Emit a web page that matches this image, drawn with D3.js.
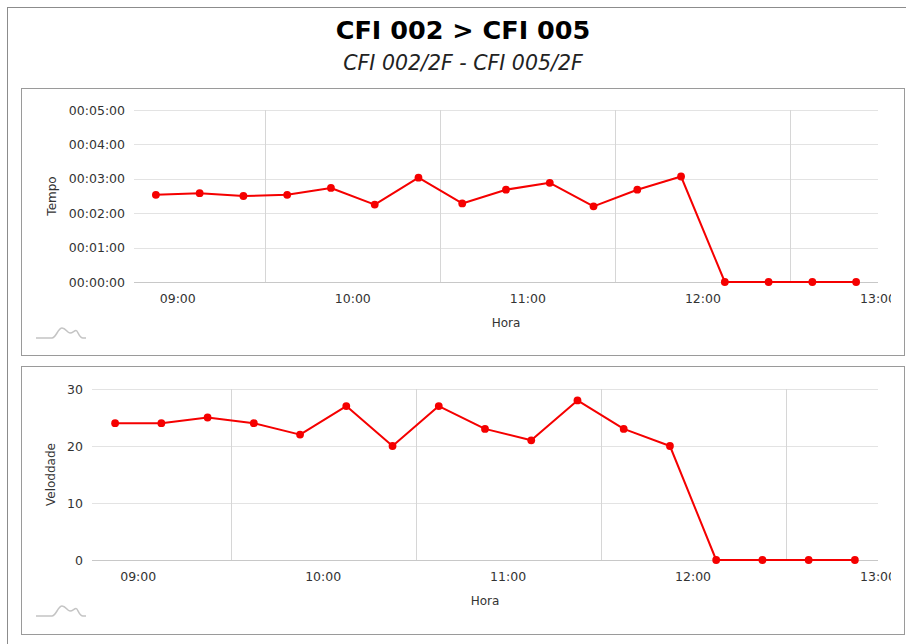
<!DOCTYPE html>
<html>
<head>
<meta charset="utf-8">
<script src="https://cdn.jsdelivr.net/npm/d3@7"></script>
<style>
html,body{margin:0;padding:0;background:#fff;}
svg{display:block;font-family:"DejaVu Sans",Verdana,sans-serif;}
</style>
</head>
<body>
<svg id="chart" width="906" height="644"></svg>
<script>
const titleText = "CFI 002 > CFI 005";
const subtitleText = "CFI 002/2F - CFI 005/2F";
const times = ["08:52:30","09:07:30","09:22:30","09:37:30","09:52:30","10:07:30","10:22:30","10:37:30","10:52:30","11:07:30","11:22:30","11:37:30","11:52:30","12:07:30","12:22:30","12:37:30","12:52:30"];
const tempo = ["00:02:32","00:02:35","00:02:30","00:02:32","00:02:44","00:02:15","00:03:02","00:02:17","00:02:41","00:02:53","00:02:12","00:02:41","00:03:04","00:00:00","00:00:00","00:00:00","00:00:00"];
const velocidade = [24,24,25,24,22,27,20,27,23,21,28,23,20,0,0,0,0];
const xTickLabels = ["09:00","10:00","11:00","12:00","13:00"];
const xGridTimes = ["09:30","10:30","11:30","12:30"];
const xDomain = ["08:45","13:00"];
const tempoTickLabels = ["00:00:00","00:01:00","00:02:00","00:03:00","00:04:00","00:05:00"];
const velTicks = [0,10,20,30];
const xTitle = "Hora";
const tempoTitle = "Tempo";
const velTitle = "Veloddade";

const parseT = s => { const p = s.split(":").map(Number); return new Date(2000,0,1,p[0],p[1],p[2]||0); };
const toSec = s => { const p = s.split(":").map(Number); return p[0]*3600+p[1]*60+p[2]; };

const svg = d3.select("#chart");
// outer frame
svg.append("rect").attr("x",7.5).attr("y",7.5).attr("width",906).attr("height",640)
  .attr("fill","#fff").attr("stroke","#8c8c8c").attr("stroke-width",1);

svg.append("text").attr("x",463).attr("y",39).attr("text-anchor","middle")
  .attr("font-size",25.5).attr("font-weight","bold").attr("fill","#000").text(titleText);
svg.append("text").attr("x",463).attr("y",70).attr("text-anchor","middle")
  .attr("font-size",20.5).attr("font-style","italic").attr("fill","#222").text(subtitleText);

function panel(cfg){
  const g = svg.append("g");
  const clipId = "clip"+cfg.id;
  svg.append("defs").append("clipPath").attr("id",clipId)
    .append("rect").attr("x",cfg.box[0]).attr("y",cfg.box[1]).attr("width",891-cfg.box[0]).attr("height",cfg.box[3]-cfg.box[1]);
  g.append("rect").attr("x",cfg.box[0]+0.5).attr("y",cfg.box[1]+0.5)
    .attr("width",cfg.box[2]-cfg.box[0]).attr("height",cfg.box[3]-cfg.box[1])
    .attr("fill","#fff").attr("stroke","#9a9a9a");
  const inner = g.append("g").attr("clip-path",`url(#${clipId})`);
  const x = d3.scaleTime().domain(xDomain.map(parseT)).range([cfg.plot[0],cfg.plot[2]]);
  const y = d3.scaleLinear().domain(cfg.yDomain).range([cfg.plot[3],cfg.plot[1]]);

  // horizontal grid
  inner.append("g").selectAll("line").data(cfg.yTicks).join("line")
    .attr("x1",cfg.plot[0]).attr("x2",cfg.plot[2])
    .attr("y1",d=>Math.round(y(d))+0.5).attr("y2",d=>Math.round(y(d))+0.5)
    .attr("stroke",(d,i)=>i===0?"#c8c8c8":"#e3e3e3").attr("stroke-width",1);
  // vertical grid
  inner.append("g").selectAll("line").data(xGridTimes).join("line")
    .attr("x1",d=>Math.round(x(parseT(d)))+0.5).attr("x2",d=>Math.round(x(parseT(d)))+0.5)
    .attr("y1",cfg.plot[1]).attr("y2",cfg.plot[3])
    .attr("stroke","#d6d6d6").attr("stroke-width",1);

  // y tick labels
  inner.append("g").selectAll("text").data(cfg.yTicks).join("text")
    .attr("x",cfg.plot[0]-9).attr("y",d=>y(d)+4.5).attr("text-anchor","end")
    .attr("font-size",12.5).attr("fill","#333").text((d,i)=>cfg.yLabels[i]);
  // x tick labels
  inner.append("g").selectAll("text").data(xTickLabels).join("text")
    .attr("x",d=>x(parseT(d))).attr("y",cfg.plot[3]+21).attr("text-anchor","middle")
    .attr("font-size",12.5).attr("fill","#333").text(d=>d);

  // axis titles
  inner.append("text").attr("x",(cfg.plot[0]+cfg.plot[2])/2).attr("y",cfg.plot[3]+45)
    .attr("text-anchor","middle").attr("font-size",12).attr("fill","#333").text(xTitle);
  inner.append("text").attr("transform",`translate(${cfg.yTitleX},${(cfg.plot[1]+cfg.plot[3])/2}) rotate(-90)`)
    .attr("text-anchor","middle").attr("font-size",12).attr("fill","#333").text(cfg.yTitle);

  // icon
  const ix = cfg.box[0]+15, iy = cfg.plot[3]+56;
  inner.append("path").attr("d",
    `M${ix},${iy} L${ix+16},${iy} C${ix+20},${iy} ${ix+22},${iy-10} ${ix+26},${iy-10} C${ix+30},${iy-10} ${ix+31},${iy-5} ${ix+34},${iy-5} C${ix+37},${iy-5} ${ix+38},${iy-7.5} ${ix+40},${iy-7.5} C${ix+42},${iy-7.5} ${ix+43},${iy} ${ix+47},${iy} L${ix+50},${iy}`)
    .attr("fill","none").attr("stroke","#c4c4c4").attr("stroke-width",1.5);

  // series
  const data = times.map((t,i)=>({t:parseT(t), v:cfg.values[i]}));
  const line = d3.line().x(d=>x(d.t)).y(d=>y(d.v));
  inner.append("path").datum(data).attr("d",line).attr("fill","none")
    .attr("stroke","#f50000").attr("stroke-width",2).attr("stroke-linejoin","round");
  inner.append("g").selectAll("circle").data(data).join("circle")
    .attr("cx",d=>x(d.t)).attr("cy",d=>y(d.v)).attr("r",3.9).attr("fill","#f50000");
}

panel({id:1, box:[21,88,904,355], plot:[134,110,878,282], yDomain:[0,300],
  yTicks: tempoTickLabels.map(toSec), yLabels: tempoTickLabels,
  values: tempo.map(toSec), yTitle: tempoTitle, yTitleX: 56});
panel({id:2, box:[21,366,904,634], plot:[92,389,878,560], yDomain:[0,30],
  yTicks: velTicks, yLabels: velTicks.map(String),
  values: velocidade, yTitle: velTitle, yTitleX: 55});
</script>
</body>
</html>
